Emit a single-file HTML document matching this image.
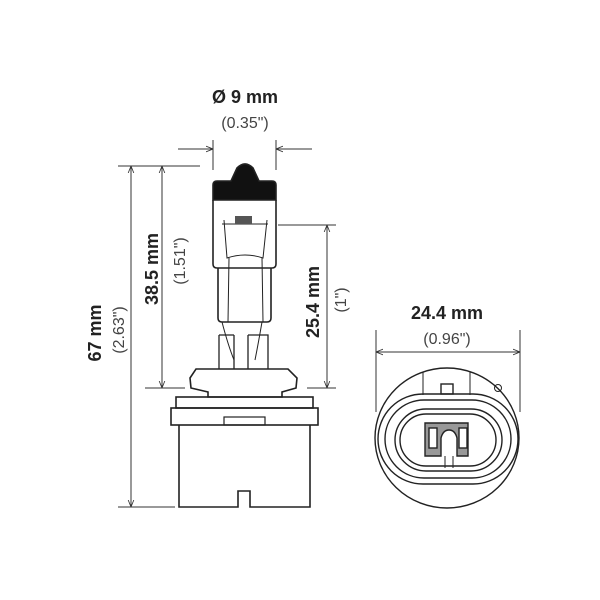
<!DOCTYPE html>
<html><head><meta charset="utf-8"><style>
html,body{margin:0;padding:0;background:#fff;}
svg{display:block}
text{font-family:"Liberation Sans Narrow","Liberation Sans",sans-serif;fill:#222;}
.b{font-weight:bold;font-size:18px;}
.n{font-size:16px;fill:#444;}
</style></head><body>
<svg width="600" height="600" viewBox="0 0 600 600" xmlns="http://www.w3.org/2000/svg">
<defs>
<marker id="a" viewBox="0 0 10 10" refX="10" refY="5" markerWidth="7" markerHeight="7" orient="auto-start-reverse" markerUnits="userSpaceOnUse">
<path d="M0,1 L10,5 L0,9" fill="none" stroke="#333" stroke-width="1.2"/></marker>
</defs>
<g stroke="#333" stroke-width="1" fill="none">
<line x1="213" y1="140" x2="213" y2="170"/><line x1="276" y1="140" x2="276" y2="170"/>
<line x1="178" y1="149" x2="213" y2="149" marker-end="url(#a)"/>
<line x1="312" y1="149" x2="276" y2="149" marker-end="url(#a)"/>
<line x1="118" y1="166" x2="200" y2="166"/>
<line x1="131" y1="166" x2="131" y2="507" marker-start="url(#a)" marker-end="url(#a)"/>
<line x1="118" y1="507" x2="175" y2="507"/>
<line x1="162" y1="166" x2="162" y2="388" marker-start="url(#a)" marker-end="url(#a)"/>
<line x1="145" y1="388" x2="185" y2="388"/>
<line x1="278" y1="225" x2="336" y2="225"/>
<line x1="327" y1="225" x2="327" y2="388" marker-start="url(#a)" marker-end="url(#a)"/>
<line x1="307" y1="388" x2="336" y2="388"/>
<line x1="376" y1="330" x2="376" y2="412"/><line x1="520" y1="330" x2="520" y2="412"/>
<line x1="376" y1="352" x2="520" y2="352" marker-start="url(#a)" marker-end="url(#a)"/>
</g>
<g stroke="#222" stroke-width="1.6" fill="none">
<path d="M213,200 L213,185 Q213,181 217,181 L231,181 L237,168 Q245,160 253,168 L259,181 L272,181 Q276,181 276,185 L276,200 Z" fill="#111"/>
<path d="M213,200 L213,264 Q213,268 217,268 L272,268 Q276,268 276,264 L276,200"/>
<path d="M218,268 L218,318 Q218,322 222,322 L267,322 Q271,322 271,318 L271,268"/>
<path d="M224,220 L227,258 Q245,252 263,258 L267,220" stroke-width="1"/>
<path d="M229,258 L228,322 M262,258 L263,322" stroke-width="1"/>
<line x1="222" y1="224" x2="268" y2="224" stroke-width="1"/>
<rect x="235" y="216" width="17" height="8" fill="#555" stroke="none"/>
<path d="M219,335 L219,369 M234,335 L234,369 M219,335 L234,335 M248,335 L268,335 L268,369 M248,335 L248,369" stroke-width="1.3"/>
<path d="M222,322 Q228,345 234,360 M262,322 Q258,345 255,360" stroke-width="1"/>
<path d="M196,369 L288,369 L297,378 L296,388 L282,392 L282,397 L208,397 L208,392 L191,388 L190,378 Z"/>
<rect x="176" y="397" width="137" height="11"/>
<rect x="171" y="408" width="147" height="17"/>
<rect x="224" y="417" width="41" height="8" stroke-width="1.2"/>
<path d="M179,425 L179,507 L238,507 L238,491 L250,491 L250,507 L310,507 L310,425"/>
</g>
<g stroke="#222" stroke-width="1.4" fill="none">
<ellipse cx="447" cy="438" rx="72" ry="70"/>
<path d="M423,372 L423,395 M470,372 L470,395" stroke-width="1"/>
<rect x="441" y="384" width="12" height="10"/>
<circle cx="498" cy="388" r="3.5" stroke-width="1"/>
<rect x="378" y="394" width="140" height="90" rx="45"/>
<rect x="385" y="400" width="126" height="78" rx="39"/>
<rect x="395" y="409" width="107" height="62" rx="31"/>
<rect x="400" y="414" width="96" height="52" rx="26"/>
<path d="M425,456 L425,423 L468,423 L468,456 L457,456 L457,438 Q455,430 449,430 Q443,430 441,438 L441,456 Z" fill="#999"/>
<rect x="429" y="428" width="8" height="20" fill="#fff"/>
<rect x="459" y="428" width="8" height="20" fill="#fff"/>
<path d="M445,456 L445,468 M453,456 L453,468" stroke-width="1"/>
</g>
<text class="b" x="245" y="103" text-anchor="middle">Ø 9 mm</text>
<text class="n" x="245" y="128" text-anchor="middle">(0.35")</text>
<text class="b" x="447" y="319" text-anchor="middle">24.4 mm</text>
<text class="n" x="447" y="344" text-anchor="middle">(0.96")</text>
<text class="b" transform="translate(158,269) rotate(-90)" text-anchor="middle">38.5 mm</text>
<text class="n" transform="translate(185,261) rotate(-90)" text-anchor="middle">(1.51")</text>
<text class="b" transform="translate(319,302) rotate(-90)" text-anchor="middle">25.4 mm</text>
<text class="n" transform="translate(346,300) rotate(-90)" text-anchor="middle">(1")</text>
<text class="b" transform="translate(101,333) rotate(-90)" text-anchor="middle">67 mm</text>
<text class="n" transform="translate(124,330) rotate(-90)" text-anchor="middle">(2.63")</text>
</svg>
</body></html>
